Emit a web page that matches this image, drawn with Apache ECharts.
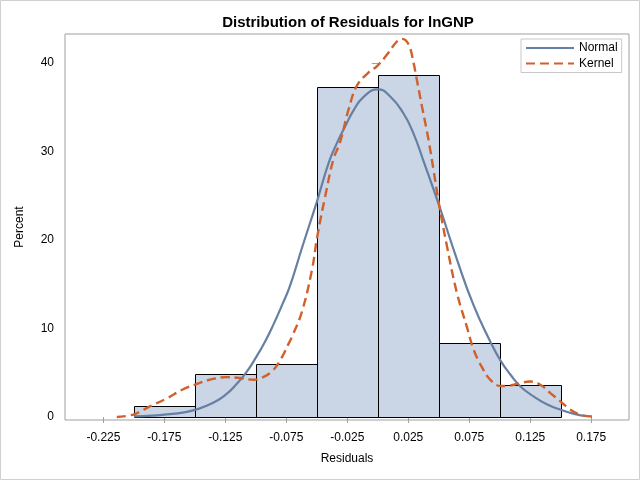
<!DOCTYPE html>
<html>
<head>
<meta charset="utf-8">
<script src="https://cdn.jsdelivr.net/npm/echarts@6/dist/echarts.min.js"></script>
<style>
html,body{margin:0;padding:0;background:#fff;}
#chart{width:640px;height:480px;}
</style>
</head>
<body>
<div id="chart"></div>
<script>
// ---- data ----
const binStarts = [-0.2, -0.15, -0.1, -0.05, 0.0, 0.05, 0.1];
const binEnds   = [-0.15, -0.1, -0.05, 0.0, 0.05, 0.1, 0.15];
const percents  = [1.2, 4.8, 6.0, 37.3, 38.6, 8.4, 3.6];

const normalX = [-0.2, -0.185, -0.173, -0.16, -0.15, -0.135, -0.124, -0.116, -0.108, -0.1, -0.0925, -0.0857, -0.078, -0.072, -0.0624, -0.05, -0.04, -0.0336, -0.0268, -0.02, -0.012, 0.0, 0.0102, 0.021, 0.0293, 0.0375, 0.05, 0.0649, 0.0786, 0.0923, 0.1005, 0.1087, 0.117, 0.128, 0.139, 0.15, 0.161, 0.172];
const normalY = [0.08, 0.15, 0.3, 0.5, 0.8, 1.6, 2.6, 3.7, 5.0, 6.7, 8.5, 10.4, 12.8, 14.8, 19.0, 24.3, 28.8, 30.9, 32.8, 34.6, 36.1, 37.0, 36.2, 34.3, 32.0, 28.9, 24.0, 17.8, 12.6, 8.5, 6.4, 4.8, 3.45, 2.3, 1.4, 0.82, 0.35, 0.08];

const kernelX = [-0.214, -0.2, -0.187, -0.173, -0.16, -0.146, -0.135, -0.124, -0.113, -0.102, -0.094, -0.0857, -0.0788, -0.0734, -0.0706, -0.0624, -0.054, -0.0496, -0.043, -0.0364, -0.031, -0.024, -0.0172, -0.0077, -0.0008, 0.0074, 0.0157, 0.0198, 0.0252, 0.0293, 0.032, 0.0362, 0.0416, 0.0457, 0.05, 0.0567, 0.0649, 0.073, 0.0786, 0.0855, 0.0923, 0.1005, 0.1087, 0.117, 0.125, 0.1333, 0.1415, 0.1498, 0.158, 0.166, 0.176];
const kernelY = [0.0, 0.3, 1.2, 2.1, 3.1, 3.85, 4.3, 4.5, 4.4, 4.2, 4.5, 5.3, 6.7, 8.2, 9.0, 11.8, 16.6, 20.4, 25.0, 29.1, 31.0, 34.7, 37.4, 38.9, 39.6, 40.9, 42.4, 42.7, 42.1, 40.0, 38.1, 35.1, 31.3, 27.9, 24.2, 19.3, 14.0, 10.2, 7.6, 5.6, 4.2, 3.5, 3.55, 3.85, 4.0, 3.65, 2.7, 1.76, 0.82, 0.26, 0.05];

const xTickValues = [-0.225, -0.175, -0.125, -0.075, -0.025, 0.025, 0.075, 0.125, 0.175];
const yTickValues = [0, 10, 20, 30, 40];

const titleText = 'Distribution of Residuals for lnGNP';
const xName = 'Residuals';
const yName = 'Percent';
const seriesNames = ['Normal', 'Kernel'];

// ---- build ----
const FONT = "'Liberation Sans', Arial, Helvetica, sans-serif";
const histData = binStarts.map((s, i) => [s, binEnds[i], percents[i]]);
const normalData = normalX.map((x, i) => [x, normalY[i]]);
const kernelData = kernelX.map((x, i) => [x, kernelY[i]]);

const chart = echarts.init(document.getElementById('chart'), null, {renderer: 'canvas'});
const axisGray = '#9f9f9f';

chart.setOption({
  animation: false,
  backgroundColor: '#ffffff',
  graphic: [
    {type: 'rect', shape: {x: 0.5, y: 0.5, width: 639, height: 479}, style: {fill: 'none', stroke: '#d0d0d0', lineWidth: 1}, silent: true, z: -10},
    {type: 'text', x: 348, y: 23, style: {text: titleText, textAlign: 'center', textVerticalAlign: 'middle', font: 'bold 15px ' + FONT, fill: '#000'}}
  ],
  grid: {left: 65, right: 11, top: 34, bottom: 60, show: true, borderColor: axisGray, borderWidth: 1, backgroundColor: 'transparent'},
  legend: {
    data: seriesNames,
    orient: 'vertical',
    left: 521, top: 39,
    padding: [2, 4, 2, 4],
    itemWidth: 48, itemHeight: 14, itemGap: 1.5,
    itemStyle: {opacity: 0},
    backgroundColor: '#fff', borderColor: '#c8c8c8', borderWidth: 1, borderRadius: 0,
    textStyle: {fontFamily: FONT, fontSize: 12, color: '#000', lineHeight: 14}
  },
  xAxis: {
    type: 'value', min: -0.2565, max: 0.206,
    name: xName, nameLocation: 'middle', nameGap: 33,
    nameTextStyle: {fontFamily: FONT, fontSize: 12, color: '#000'},
    axisLine: {show: false},
    axisTick: {show: true, length: 6, customValues: xTickValues, lineStyle: {color: axisGray}},
    axisLabel: {customValues: xTickValues, margin: 12, fontFamily: FONT, fontSize: 12, color: '#000', formatter: v => v.toFixed(3)},
    splitLine: {show: false}
  },
  yAxis: {
    type: 'value', min: -0.34, max: 43.25,
    name: yName, nameLocation: 'middle', nameGap: 39, nameRotate: 90,
    nameTextStyle: {fontFamily: FONT, fontSize: 12, color: '#000'},
    axisLine: {show: false},
    axisTick: {show: true, length: 6, customValues: yTickValues, lineStyle: {color: axisGray}},
    axisLabel: {customValues: yTickValues, margin: 11, fontFamily: FONT, fontSize: 12, color: '#000'},
    splitLine: {show: false}
  },
  series: [
    {
      type: 'custom', name: 'Histogram', data: histData,
      encode: {x: [0, 1], y: 2},
      renderItem: function (params, api) {
        const p0 = api.coord([api.value(0), 0]);
        const p1 = api.coord([api.value(1), api.value(2)]);
        const x0 = Math.round(p0[0]) + 0.5, x1 = Math.round(p1[0]) + 0.5;
        const y0 = Math.round(p0[1]) + 0.5, y1 = Math.round(p1[1]) + 0.5;
        return {type: 'rect', shape: {x: x0, y: y1, width: x1 - x0, height: y0 - y1},
          style: {fill: '#cad5e5', stroke: '#000', lineWidth: 1}};
      },
      z: 1
    },
    {
      type: 'line', name: seriesNames[0], data: normalData, smooth: 0.5,
      showSymbol: false, symbol: 'none',
      lineStyle: {color: '#667fa2', width: 2.2}, itemStyle: {color: '#667fa2'}, z: 3
    },
    {
      type: 'line', name: seriesNames[1], data: kernelData, smooth: 0.4,
      showSymbol: false, symbol: 'none',
      lineStyle: {color: '#d0602c', width: 2.4, type: [9, 5]}, itemStyle: {color: '#d0602c'}, z: 4
    }
  ]
});
</script>
</body>
</html>
